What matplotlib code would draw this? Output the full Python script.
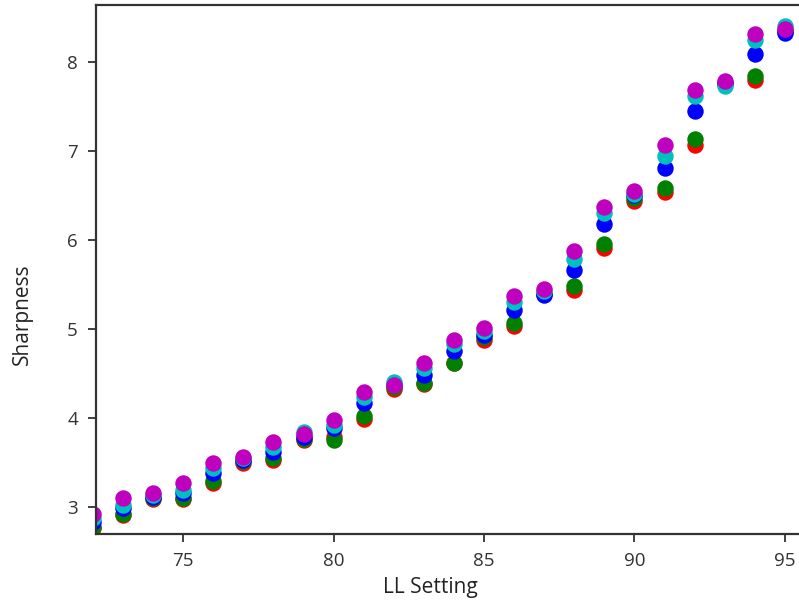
import matplotlib.pyplot as plt
import numpy as np

plt.rcParams["font.family"] = ["Open Sans", "DejaVu Sans"]

ll_setting = np.arange(72, 96)

sharp_red = [2.77, 2.91, 3.09, 3.09, 3.27, 3.50, 3.53, 3.75, 3.79, 3.99, 4.33, 4.38,
             4.62, 4.88, 5.03, 5.39, 5.44, 5.91, 6.44, 6.54, 7.07, 7.75, 7.80, 8.35]
sharp_green = [2.78, 2.93, 3.10, 3.10, 3.30, 3.52, 3.55, 3.77, 3.75, 4.03, 4.35, 4.39,
               4.62, 4.91, 5.07, 5.40, 5.49, 5.96, 6.47, 6.59, 7.14, 7.76, 7.84, 8.35]
sharp_blue = [2.83, 2.99, 3.12, 3.16, 3.38, 3.53, 3.62, 3.79, 3.89, 4.17, 4.38, 4.49,
              4.75, 4.93, 5.22, 5.38, 5.66, 6.18, 6.51, 6.81, 7.45, 7.76, 8.09, 8.33]
sharp_cyan = [2.88, 3.03, 3.14, 3.19, 3.44, 3.55, 3.68, 3.85, 3.92, 4.24, 4.41, 4.56,
              4.83, 4.98, 5.30, 5.43, 5.79, 6.31, 6.52, 6.95, 7.62, 7.73, 8.25, 8.40]
sharp_magenta = [2.92, 3.10, 3.16, 3.27, 3.50, 3.57, 3.73, 3.82, 3.98, 4.30, 4.37, 4.62,
                 4.88, 5.01, 5.37, 5.45, 5.88, 6.37, 6.55, 7.07, 7.69, 7.79, 8.31, 8.37]

series = [("r", sharp_red), ("g", sharp_green), ("b", sharp_blue),
          ("c", sharp_cyan), ("m", sharp_magenta)]

fig = plt.figure(figsize=(7.99, 6.02), dpi=100)
ax = fig.add_axes([96 / 799, 68 / 602, 722 / 799, 529 / 602])

for color, vals in series:
    ax.scatter(ll_setting, vals, c=color, s=140, linewidths=0, zorder=2)

ax.set_xlim(72.1, 96.1)
ax.set_ylim(2.7, 8.64)
ax.set_xticks([75, 80, 85, 90, 95])
ax.set_yticks([3, 4, 5, 6, 7, 8])

for spine in ax.spines.values():
    spine.set_linewidth(1.6)
    spine.set_color("#333333")
ax.tick_params(labelsize=13.5, length=6, width=1.3, color="#333333",
               labelcolor="#333333", pad=7)

ax.set_xlabel("LL Setting", fontsize=15, color="#222222")
ax.set_ylabel("Sharpness", fontsize=15, color="#222222")
ax.xaxis.set_label_coords(0.4626, -0.102)
ax.yaxis.set_label_coords(-0.1025, 0.416)
ax.xaxis.label.set_va("center")
ax.yaxis.label.set_va("center")

fig.savefig("out.png", dpi=100)
